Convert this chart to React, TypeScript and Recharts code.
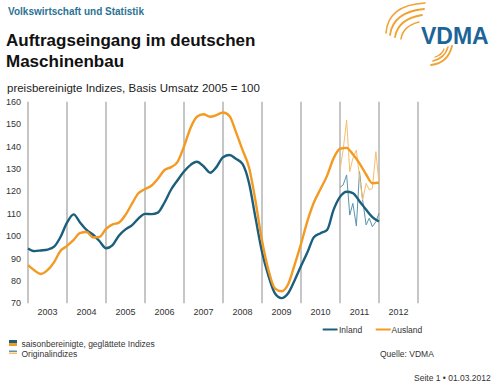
import React from 'react';
import { LineChart, Line, XAxis, YAxis, CartesianGrid } from 'recharts';

// Smoothed (seasonally adjusted) indices, every two months, 2003 .. end of 2011
const smoothX = [
  2003.0, 2003.17, 2003.33, 2003.5, 2003.67, 2003.83,
  2004.0, 2004.17, 2004.33, 2004.5, 2004.67, 2004.83,
  2005.0, 2005.17, 2005.33, 2005.5, 2005.67, 2005.83,
  2006.0, 2006.17, 2006.33, 2006.5, 2006.67, 2006.83,
  2007.0, 2007.17, 2007.33, 2007.5, 2007.67, 2007.83,
  2008.0, 2008.17, 2008.33, 2008.5, 2008.67, 2008.83,
  2009.0, 2009.17, 2009.33, 2009.5, 2009.67, 2009.83,
  2010.0, 2010.17, 2010.33, 2010.5, 2010.67, 2010.83,
  2011.0, 2011.17, 2011.33, 2011.5, 2011.67, 2011.83,
  2012.0,
];
const inlandSmooth = [
  94.5, 93.3, 93.6, 94.0, 95.3, 99.5,
  106, 109.7, 106.2, 102.8, 100.6, 97.8,
  94.6, 96.0, 100.2, 103.0, 104.9, 107.8,
  109.9, 109.8, 110.5, 115, 120.8, 124.8,
  128.8, 131.8, 133.2, 131.2, 128.3, 130.8,
  135.2, 136.2, 134.5, 132.2, 123.5, 108.5,
  93, 82, 74.5, 72.3, 74.5, 80,
  86.6, 93, 99.5, 101.3, 102.8, 111.5,
  117.5, 119.8, 119.2, 115.6, 111.8, 108.5,
  106.5,
];
const auslandSmooth = [
  87, 84.6, 83.1, 84.8, 88.4, 93.3,
  95.6, 98.3, 101.3, 101.8, 99.4, 99.6,
  103.2, 105.2, 106, 109.5, 114.6, 119.1,
  121, 122.6, 125.6, 129.5, 130.8, 133,
  140, 148.4, 153.3, 154.4, 153.3, 154,
  155.2, 153.5, 146.5, 138.5, 130.5, 116,
  98, 84.6, 76.7, 75.4, 78.5, 86.8,
  96.5, 107, 115, 121, 127, 134.5,
  139, 139.4, 136.5, 132.5, 127.5, 123.6,
  123.8,
];

// Original (unadjusted) monthly indices, Dec 2010 .. Dec 2011
const origX = [
  2011.0, 2011.08, 2011.17, 2011.25, 2011.33, 2011.42, 2011.5,
  2011.58, 2011.67, 2011.75, 2011.83, 2011.92, 2012.0,
];
const inlandOrig = [121.8, 122.8, 127.3, 109.4, 114.6, 104.5, 128.8, 116.1, 105, 108, 104.2, 106.4, 110.2];
const auslandOrig = [129.5, 138.4, 151.8, 128.8, 134.7, 138.4, 126.5, 116.1, 123.6, 120.6, 121.3, 137.7, 123.6];

const yearTicks = [2003, 2004, 2005, 2006, 2007, 2008, 2009, 2010, 2011, 2012, 2013];
const valueTicks = [70, 80, 90, 100, 110, 120, 130, 140, 150, 160];

const TEAL = '#1b5f7d';
const ORANGE = '#f39a22';
const TEAL_LIGHT = '#5b93ad';
const ORANGE_LIGHT = '#f7bd6e';
const FONT = '"Liberation Sans", Arial, sans-serif';

const toSeries = (xs: number[], vs: number[]) => xs.map((t, i) => ({ t, v: vs[i] }));

const inlandSmoothData = toSeries(smoothX, inlandSmooth);
const auslandSmoothData = toSeries(smoothX, auslandSmooth);
const inlandOrigData = toSeries(origX, inlandOrig);
const auslandOrigData = toSeries(origX, auslandOrig);

const YearTick = (props: any) => {
  const { x, y, payload } = props;
  if (payload.value >= 2013) return <g />;
  return (
    <text x={x + 19.5} y={y + 12} textAnchor="middle" fontSize={9} fill="#333" fontFamily={FONT}>
      {payload.value}
    </text>
  );
};

export default function App() {
  return (
    <div style={{ position: 'absolute', left: 0, top: 0, width: 500, height: 385, background: '#fff', fontFamily: FONT, overflow: 'hidden' }}>
      <div style={{ position: 'absolute', left: 0, top: 0 }}>
        <LineChart width={500} height={385} margin={{ top: 101.7, right: 82, bottom: 61.7, left: 0 }}>
          <CartesianGrid vertical horizontal={false} stroke="#b3b3b3" strokeWidth={1.5} />
          <XAxis
            dataKey="t"
            type="number"
            domain={[2003, 2013]}
            ticks={yearTicks}
            interval={0}
            axisLine={false}
            tickLine={false}
            tickSize={0}
            tickMargin={0}
            height={20}
            tick={<YearTick />}
            allowDuplicatedCategory={false}
          />
          <YAxis
            type="number"
            domain={[70, 160]}
            ticks={valueTicks}
            interval={0}
            width={28}
            axisLine={false}
            tickLine={false}
            tickSize={0}
            tickMargin={7}
            tick={{ fontSize: 9, fill: '#333', fontFamily: FONT }}
          />
          <Line data={inlandOrigData} dataKey="v" type="linear" stroke={TEAL_LIGHT} strokeWidth={1} dot={false} isAnimationActive={false} />
          <Line data={auslandOrigData} dataKey="v" type="linear" stroke={ORANGE_LIGHT} strokeWidth={1} dot={false} isAnimationActive={false} />
          <Line data={inlandSmoothData} dataKey="v" type="monotone" stroke={TEAL} strokeWidth={2.4} dot={false} isAnimationActive={false} />
          <Line data={auslandSmoothData} dataKey="v" type="monotone" stroke={ORANGE} strokeWidth={2.4} dot={false} isAnimationActive={false} />
        </LineChart>
      </div>
      <svg width={500} height={385} style={{ position: 'absolute', left: 0, top: 0, pointerEvents: 'none' }} fontFamily={FONT}>
        <text x={8} y={15} fontSize={10} fontWeight="bold" fill="#2b7393">Volkswirtschaft und Statistik</text>
        <text x={6} y={46} fontSize={17} fontWeight="bold" fill="#111">Auftragseingang im deutschen</text>
        <text x={6} y={67} fontSize={17} fontWeight="bold" fill="#111">Maschinenbau</text>
        <text x={7} y={91.5} fontSize={11.5} fill="#222">preisbereinigte Indizes, Basis Umsatz 2005 = 100</text>

        {/* VDMA logo */}
        <g fill="none" stroke="#f0a232" strokeLinecap="round">
          <path d="M386,33 Q388,5 425,3" strokeWidth={1.6} />
          <path d="M390,35 Q393,12 424,9" strokeWidth={1.8} />
          <path d="M395,37 Q398,19 422,15" strokeWidth={1.8} />
          <path d="M401,39 Q403,26 419,22" strokeWidth={1.5} />
          <path d="M431,65 Q448,63 452,46" strokeWidth={1.8} />
          <path d="M433,61 Q445,58 448,47" strokeWidth={1.6} />
          <path d="M435,57 Q442,55 444,49" strokeWidth={1.3} />
        </g>
        <text x={421} y={43.5} fontSize={23} fontWeight="bold" fill="#1d6597">VDMA</text>

        {/* series legend */}
        <line x1={322.7} y1={329.5} x2={337.5} y2={329.5} stroke={TEAL} strokeWidth={2} />
        <text x={339} y={332.5} fontSize={8.5} fill="#333">Inland</text>
        <line x1={375.7} y1={329.5} x2={390.7} y2={329.5} stroke={ORANGE} strokeWidth={2} />
        <text x={391.5} y={332.5} fontSize={8.5} fill="#333">Ausland</text>

        {/* index type legend */}
        <rect x={9} y={340} width={8} height={3} fill={TEAL} />
        <rect x={9} y={343} width={8} height={3} fill={ORANGE} />
        <text x={21.5} y={346.5} fontSize={8.5} fill="#333">saisonbereinigte, geglättete Indizes</text>
        <rect x={9} y={350.5} width={8} height={1.5} fill={TEAL_LIGHT} />
        <rect x={9} y={352.5} width={8} height={1.5} fill={ORANGE_LIGHT} />
        <text x={21.5} y={357} fontSize={8.5} fill="#333">Originalindizes</text>

        <text x={380} y={357} fontSize={8.5} fill="#333">Quelle: VDMA</text>
        <text x={414} y={381} fontSize={8.5} fill="#333">Seite 1 • 01.03.2012</text>
      </svg>
    </div>
  );
}
